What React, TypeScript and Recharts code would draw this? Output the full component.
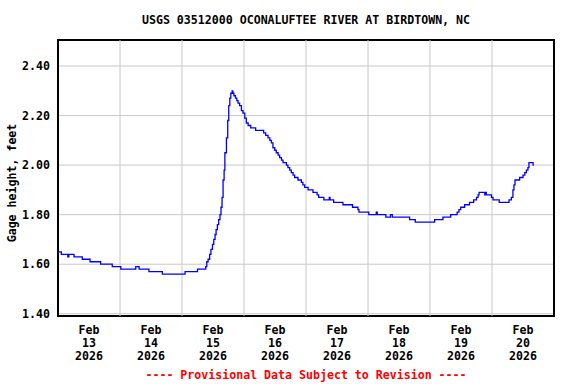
import React from 'react';
import { LineChart, Line, XAxis, YAxis, CartesianGrid, ReferenceLine, ReferenceArea } from 'recharts';

// hours since Feb 13 00:00 and gage height (ft)
const HOURS = [
  0, 1.3, 3.8, 4.2, 6.2, 9.4, 12.4, 16.5, 21, 24.3, 30.1, 31.4, 35.2, 40.4, 49.2, 54,
  57.2, 57.6, 58.1, 58.7, 59.2, 59.8, 60.3, 60.8, 61.2, 61.7, 62.2, 62.7, 63.1, 63.5, 63.9,
  64.3, 64.6, 65.2, 65.7, 66.1, 66.5, 66.9, 67.4, 67.7, 68.1, 68.7, 69.2, 69.7, 70.3, 71,
  71.6, 72.3, 72.9, 73.6, 74.6, 76.5, 79.6, 80.4, 81.3, 82, 82.6, 83.2, 83.9, 84.5, 85.2,
  85.8, 86.5, 87.1, 88.4, 89, 89.7, 90.3, 91, 91.6, 92.9, 94.2, 94.8, 95.5, 96.8, 98.7,
  100.3, 100.9, 102.9, 105, 105.3, 106.7, 110.3, 114, 116.1, 116.5, 120.3, 123.2, 123.6,
  126.9, 128.7, 129.4, 136.1, 138.3, 145.8, 149, 152, 154.5, 155.2, 155.9, 157.4, 159.3,
  160.9, 162, 162.6, 163, 165.2, 165.5, 165.8, 167.8, 168.4, 170.8, 174.6, 175.5, 176.1,
  176.5, 176.9, 178.7, 180, 180.7, 181.3, 181.9, 182.3, 183.9, 184.2,
];
const GAGE = [
  1.65, 1.64, 1.63, 1.64, 1.63, 1.62, 1.61, 1.60, 1.59, 1.58, 1.59, 1.58, 1.57, 1.56, 1.57, 1.58,
  1.59, 1.61, 1.62, 1.64, 1.66, 1.68, 1.70, 1.72, 1.74, 1.76, 1.78, 1.80, 1.83, 1.87, 1.94,
  1.98, 2.05, 2.11, 2.18, 2.24, 2.27, 2.29, 2.30, 2.29, 2.28, 2.27, 2.26, 2.25, 2.24, 2.22,
  2.21, 2.19, 2.17, 2.16, 2.15, 2.14, 2.13, 2.12, 2.11, 2.10, 2.09, 2.07, 2.06, 2.05, 2.04,
  2.03, 2.02, 2.01, 2.00, 1.99, 1.98, 1.97, 1.96, 1.95, 1.94, 1.93, 1.92, 1.91, 1.90, 1.89,
  1.88, 1.87, 1.86, 1.87, 1.86, 1.85, 1.84, 1.83, 1.82, 1.81, 1.80, 1.81, 1.80,
  1.79, 1.80, 1.79, 1.78, 1.77, 1.78, 1.79, 1.80, 1.81, 1.82, 1.83, 1.84, 1.85,
  1.86, 1.87, 1.88, 1.89, 1.88, 1.89, 1.88, 1.87, 1.86, 1.85, 1.86, 1.87, 1.90,
  1.92, 1.94, 1.95, 1.96, 1.97, 1.98, 1.99, 2.01, 2.00, 2.00,
];

const MONTH = 'Feb';
const YEAR = '2026';
const DAYS = ['13', '14', '15', '16', '17', '18', '19', '20'];
const Y_TICKS = [1.4, 1.6, 1.8, 2.0, 2.2, 2.4];
const Y_DOMAIN = [1.391, 2.505];
const X_DOMAIN = [0, 192];

const TITLE = 'USGS 03512000 OCONALUFTEE RIVER AT BIRDTOWN, NC';
const Y_LABEL = 'Gage height, feet';
const FOOTER = '---- Provisional Data Subject to Revision ----';

const FONT = '"DejaVu Sans Mono", "Liberation Mono", monospace';

const data = HOURS.map((h, i) => ({ h, v: GAGE[i] }));
const dayBreaks = DAYS.slice(1).map((_, i) => (i + 1) * 24);
const labelHours = DAYS.map((_, i) => i * 24 + 12);

function DayTick(props: any) {
  const { x, y, payload } = props;
  const idx = Math.round((payload.value - 12) / 24);
  const lines = [MONTH, DAYS[idx], YEAR];
  return (
    <g>
      {lines.map((t, i) => (
        <text
          key={i}
          x={x}
          y={y + 14 + i * 13}
          textAnchor="middle"
          dominantBaseline="central"
          fontFamily={FONT}
          fontWeight="bold"
          fontSize={11.6}
          fill="#000"
        >
          {t}
        </text>
      ))}
    </g>
  );
}

export default function App() {
  return (
    <div style={{ position: 'absolute', left: 0, top: 0, width: 576, height: 384, background: '#fff' }}>
      <div
        style={{
          position: 'absolute', left: 58, width: 496, top: 13, lineHeight: '14px',
          textAlign: 'center', fontFamily: FONT, fontWeight: 'bold', fontSize: 11.6, color: '#000',
        }}
      >
        {TITLE}
      </div>
      <LineChart width={576} height={384} data={data} margin={{ top: 40, right: 22, bottom: 8, left: 0 }}>
        <CartesianGrid vertical={false} stroke="#c8c8c8" strokeWidth={1} />
        {dayBreaks.map((d) => (
          <ReferenceLine key={d} x={d} stroke="#c8c8c8" strokeWidth={1} />
        ))}
        <XAxis
          type="number"
          dataKey="h"
          domain={X_DOMAIN}
          ticks={labelHours}
          axisLine={false}
          tickLine={false}
          tickSize={0}
          tickMargin={0}
          height={60}
          interval={0}
          tick={<DayTick />}
          allowDataOverflow
        />
        <YAxis
          type="number"
          domain={Y_DOMAIN}
          ticks={Y_TICKS}
          axisLine={false}
          tickLine={false}
          width={58}
          interval={0}
          allowDataOverflow
          tickFormatter={(v: number) => v.toFixed(2)}
          tick={{ fontFamily: FONT, fontWeight: 'bold', fontSize: 11.6, fill: '#000' }}
          label={{
            content: ({ viewBox }: any) => {
              const cx = 12;
              const cy = viewBox.y + viewBox.height / 2 + 5;
              return (
                <text
                  x={cx}
                  y={cy}
                  transform={`rotate(-90 ${cx} ${cy})`}
                  textAnchor="middle"
                  dominantBaseline="central"
                  fontFamily={FONT}
                  fontWeight="bold"
                  fontSize={11.6}
                  fill="#000"
                >
                  {Y_LABEL}
                </text>
              );
            },
          }}
        />
        <Line
          type="stepAfter"
          dataKey="v"
          stroke="#0000ff"
          strokeWidth={1.3}
          dot={false}
          isAnimationActive={false}
        />
        <ReferenceArea
          x1={X_DOMAIN[0]}
          x2={X_DOMAIN[1]}
          y1={Y_DOMAIN[0]}
          y2={Y_DOMAIN[1]}
          fill="none"
          fillOpacity={0}
          stroke="#000"
          strokeWidth={2}
        />
      </LineChart>
      <div
        style={{
          position: 'absolute', left: 58, width: 496, top: 368, lineHeight: '14px',
          textAlign: 'center', fontFamily: FONT, fontWeight: 'bold', fontSize: 11.6, color: '#ff0000',
        }}
      >
        {FOOTER}
      </div>
    </div>
  );
}
